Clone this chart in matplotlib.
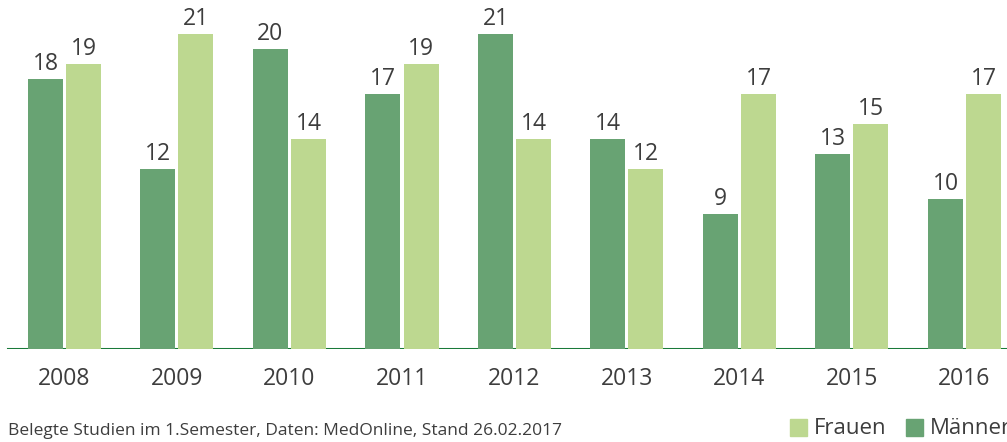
import matplotlib.pyplot as plt
from matplotlib.patches import Rectangle

years = ['2008', '2009', '2010', '2011', '2012', '2013', '2014', '2015', '2016']
maenner = [18, 12, 20, 17, 21, 14, 9, 13, 10]
frauen = [19, 21, 14, 19, 14, 12, 17, 15, 17]

c_maenner = '#68a373'
c_frauen = '#bdd890'
c_text = '#3d3d3d'
c_axis = '#1a7a3a'

plt.rcParams['font.family'] = ['Open Sans', 'DejaVu Sans']

W, H = 1007, 442
fig = plt.figure(figsize=(W / 100, H / 100), dpi=100)

# axes spans full width; 112.5 px per year group, 15 px per unit
base = 349
ax = fig.add_axes([0, (H - base) / H, 1, base / H])
ax.set_xlim(-64.5 / 112.5, (W - 64.5) / 112.5)
ax.set_ylim(0, base / 15)

x = list(range(len(years)))
w = 35 / 112.5
off = 19 / 112.5
bm = ax.bar([i - off for i in x], maenner, width=w, color=c_maenner, zorder=3)
bf = ax.bar([i + off for i in x], frauen, width=w, color=c_frauen, zorder=3)

for bars, vals in [(bm, maenner), (bf, frauen)]:
    for b, v in zip(bars, vals):
        ax.annotate(str(v), (b.get_x() + b.get_width() / 2, v),
                    xytext=(0, 2), textcoords='offset points',
                    ha='center', va='bottom', fontsize=16.5, color=c_text)

ax.axhline(0, xmin=8 / W, xmax=1, color=c_axis, lw=2.2, zorder=2)

for spine in ax.spines.values():
    spine.set_visible(False)
ax.set_yticks([])
ax.set_xticks(x)
ax.set_xticklabels(years, fontsize=16.5, color=c_text)
ax.tick_params(axis='x', length=0, pad=13)

fig.text(8 / W, 1 - 431 / H, 'Belegte Studien im 1.Semester, Daten: MedOnline, Stand 26.02.2017',
         fontsize=12.5, color=c_text, ha='left', va='center')

# legend drawn by hand
sq = 17
for px, label, col in [(790, 'Frauen', c_frauen), (906, 'Männer', c_maenner)]:
    fig.patches.append(Rectangle((px / W, 1 - 436 / H), sq / W, sq / H,
                                 transform=fig.transFigure, color=col))
    fig.text((px + sq + 7) / W, 1 - 428 / H, label, fontsize=16, color=c_text,
             ha='left', va='center')

fig.savefig('out.png', dpi=100)
